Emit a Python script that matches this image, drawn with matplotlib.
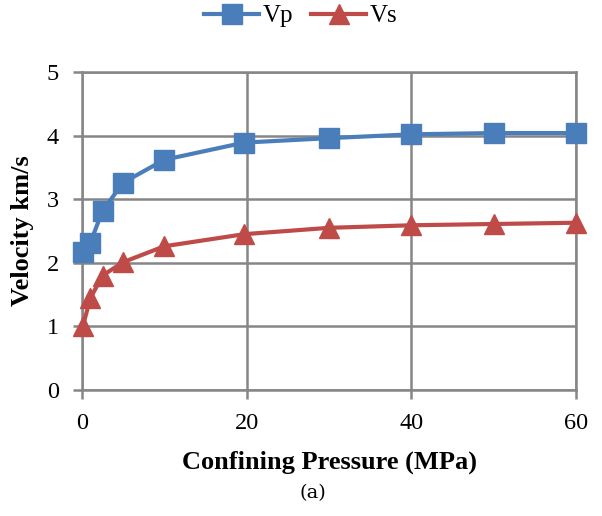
import matplotlib

matplotlib.use("Agg")
import matplotlib.pyplot as plt

# confining pressure steps (MPa) and measured velocities (km/s)
pressure = [0.1, 1, 2.5, 5, 10, 19.7, 30, 40, 50, 60]
vp = [2.17, 2.31, 2.82, 3.26, 3.62, 3.89, 3.96, 4.02, 4.04, 4.04]
vs = [1.0, 1.44, 1.8, 2.01, 2.26, 2.45, 2.55, 2.59, 2.61, 2.63]

x_ticks = [0, 20, 40, 60]
y_ticks = [0, 1, 2, 3, 4, 5]

plt.rcParams["font.family"] = ["Liberation Serif", "DejaVu Serif"]

grid_color = "#868686"

fig = plt.figure(figsize=(6.02, 5.16), dpi=100)
ax = fig.add_axes([82 / 602, 1 - 390 / 516, (576 - 82) / 602, (390 - 72) / 516])

ax.plot(pressure, vp, color="#4A7EBB", lw=3.0, marker="s", ms=14,
        label="Vp", zorder=3, clip_on=False)
ax.plot(pressure, vs, color="#BE4B48", lw=3.0, marker="^", ms=15,
        label="Vs", zorder=3, clip_on=False)

ax.set_xlim(0, 60)
ax.set_ylim(0, 5)
ax.set_xticks(x_ticks)
ax.set_yticks(y_ticks)
ax.grid(True, color=grid_color, lw=1.8)
ax.set_axisbelow(True)
for side in ["left", "right", "top", "bottom"]:
    ax.spines[side].set_color(grid_color)
    ax.spines[side].set_linewidth(1.8)
ax.tick_params(axis="both", direction="out", length=6.5, width=1.8,
               color=grid_color, labelsize=17.5, pad=10)

ax.set_xlabel("Confining Pressure (MPa)", fontsize=19, fontweight="bold", labelpad=12)
ax.set_ylabel("Velocity km/s", fontsize=19, fontweight="bold", labelpad=9)

# legend sits above the plot, a little left of centre
ax.legend(loc="center", bbox_to_anchor=((301 - 82) / 494, 1 + (72 - 16) / 318),
          ncol=2, frameon=False, fontsize=18, handlelength=2.2, columnspacing=0.7,
          handletextpad=0.15, borderaxespad=0.0)

fig.text(313 / 602, 1 - 493 / 516, "(a)", ha="center", va="center", fontsize=14,
         family=["DejaVu Serif"])

fig.savefig("out.png", dpi=100)
